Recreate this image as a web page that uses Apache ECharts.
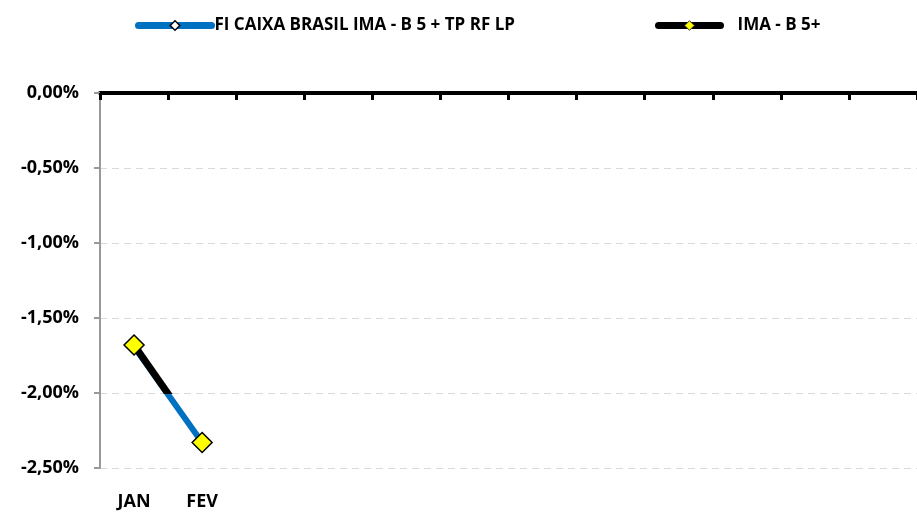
<!DOCTYPE html>
<html>
<head>
<meta charset="utf-8">
<script src="https://cdn.jsdelivr.net/npm/echarts@6/dist/echarts.min.js"></script>
<style>
  html, body { margin: 0; padding: 0; background: #fff; }
  #chart { width: 917px; height: 513px; }
</style>
</head>
<body>
<div id="chart"></div>
<script>
var months = ['JAN', 'FEV', 'MAR', 'ABR', 'MAI', 'JUN', 'JUL', 'AGO', 'SET', 'OUT', 'NOV', 'DEZ'];
var fundName = 'FI CAIXA BRASIL IMA - B 5 + TP RF LP';
var benchName = 'IMA - B 5+';
var fundValues = [-1.69, -2.33];
var benchValues = [-1.68, -2.33];

var chart = echarts.init(document.getElementById('chart'));
var font = '"Open Sans", sans-serif';
var boldText = { fontFamily: font, fontWeight: 'bold', color: '#000' };

var option = {
  animation: false,
  legend: [{
    top: 12,
    left: 130,
    itemWidth: 73,
    itemHeight: 12,
    textStyle: Object.assign({ fontSize: 17, padding: [0, 0, 0, -2] }, boldText),
    data: [{
      name: fundName,
      itemStyle: { color: '#fff', borderColor: '#000', borderWidth: 1.5 },
      lineStyle: { color: '#0070c0', width: 7, cap: 'round' }
    }]
  }, {
    top: 12,
    left: 650,
    itemWidth: 62,
    itemHeight: 12,
    textStyle: Object.assign({ fontSize: 17, padding: [0, 0, 0, 12] }, boldText),
    data: [{
      name: benchName,
      itemStyle: { color: '#ffff00', borderColor: '#333', borderWidth: 1 },
      lineStyle: { color: '#000', width: 7, cap: 'round' }
    }]
  }],
  grid: { left: 100, right: 0, top: 93, bottom: 45 },
  xAxis: [{
    type: 'category',
    data: months,
    position: 'bottom',
    axisLine: { show: false },
    axisTick: { show: false },
    axisLabel: Object.assign({
      margin: 25,
      fontSize: 18,
      formatter: function (v, i) { return i < fundValues.length ? v : ''; }
    }, boldText)
  }, {
    type: 'category',
    data: months,
    position: 'top',
    axisLine: { show: true, onZero: false, lineStyle: { color: '#000', width: 4 } },
    axisTick: { show: true, interval: 0, inside: true, length: 7, lineStyle: { color: '#000', width: 3 } },
    axisLabel: { show: true, interval: 0, color: 'rgba(0,0,0,0)', formatter: function () { return ' '; } }
  }],
  yAxis: {
    type: 'value',
    min: -2.5,
    max: 0,
    interval: 0.5,
    axisLine: { show: true, lineStyle: { color: '#999', width: 2 } },
    axisTick: { show: true, length: 6, lineStyle: { color: '#999', width: 2 } },
    splitLine: { lineStyle: { color: '#d9d9d9', type: [7, 5], width: 1 } },
    axisLabel: Object.assign({
      margin: 21,
      fontSize: 18,
      formatter: function (v) { return v.toFixed(2).replace('.', ',') + '%'; }
    }, boldText)
  },
  series: [{
    name: fundName,
    type: 'line',
    data: fundValues,
    symbol: 'diamond',
    symbolSize: 9,
    itemStyle: { color: '#fff', borderColor: '#000', borderWidth: 1.5 },
    lineStyle: { color: '#0070c0', width: 6 },
    z: 2
  }, {
    name: benchName,
    type: 'line',
    data: benchValues,
    symbol: 'diamond',
    symbolSize: 20,
    itemStyle: { color: '#ffff00', borderColor: '#000', borderWidth: 1.5 },
    lineStyle: {
      width: 7,
      color: {
        type: 'linear', x: 0, y: 0, x2: 0, y2: 1,
        colorStops: [
          { offset: 0, color: '#000' },
          { offset: 0.5, color: '#000' },
          { offset: 0.5, color: 'rgba(0,0,0,0)' },
          { offset: 1, color: 'rgba(0,0,0,0)' }
        ]
      }
    },
    z: 3
  }]
};
chart.setOption(option);
</script>
</body>
</html>
